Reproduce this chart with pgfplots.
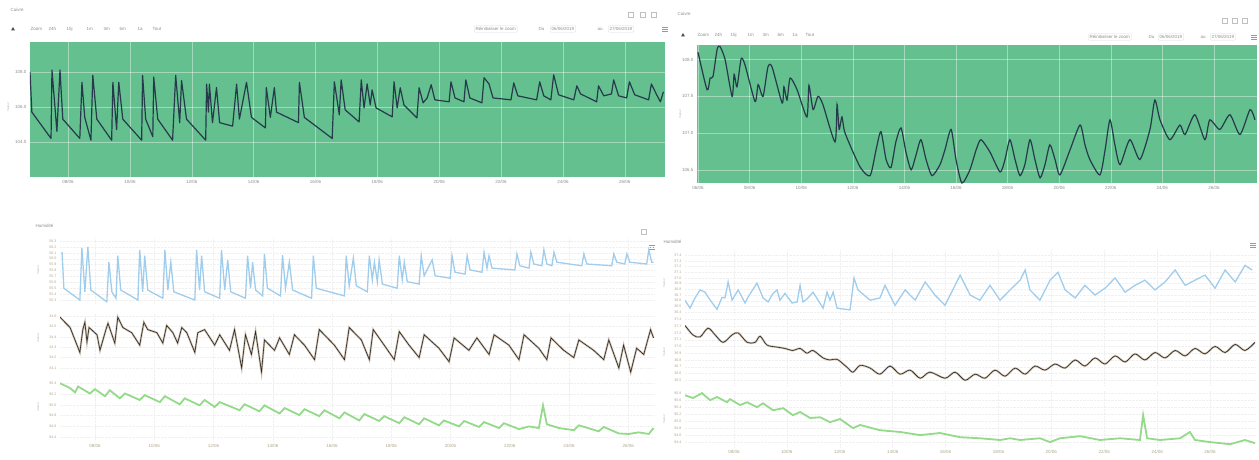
\documentclass[border=0pt]{standalone}
\usepackage{fontspec}
\setmainfont{Liberation Sans}
\usepackage{pgfplots}
\usepackage{pgfplotstable}
\pgfplotsset{compat=1.18}
\definecolor{bggreen}{RGB}{100,192,142}
\definecolor{navy}{RGB}{38,58,76}
\definecolor{lblue}{RGB}{160,205,236}
\definecolor{lgreen}{RGB}{148,218,138}
\definecolor{band}{RGB}{205,190,172}
\definecolor{txt}{RGB}{140,140,140}
\definecolor{tkl}{RGB}{175,165,140}

\pgfplotstableread{
x y
6.77 108.0
6.83 105.7
7.45 104.2
7.48 108.1
7.64 104.6
7.74 108.1
7.83 105.3
8.38 104.2
8.45 107.4
8.54 105.4
8.74 104.1
8.80 107.8
8.93 105.3
9.41 104.1
9.45 107.4
9.57 104.7
9.64 107.4
9.77 105.3
10.38 104.1
10.41 107.8
10.51 105.3
10.74 104.3
10.77 107.7
10.90 105.3
11.38 104.1
11.48 107.8
11.61 105.1
11.67 107.5
11.83 105.3
12.45 104.1
12.48 107.3
12.54 105.7
12.57 107.3
12.67 105.1
12.80 107.1
12.90 105.1
13.32 104.9
13.45 107.3
13.54 105.3
13.77 107.4
13.93 105.4
14.38 104.8
14.41 107.1
14.54 105.4
14.67 107.1
14.74 105.7
15.45 105.1
15.48 107.4
15.64 105.4
16.54 104.2
16.61 107.43
16.77 105.54
16.83 107.54
16.96 105.83
17.41 105.14
17.48 107.54
17.57 105.94
17.67 107.31
17.77 106.11
17.83 106.97
17.96 105.94
18.48 105.43
18.54 107.43
18.64 105.94
18.74 107.09
18.86 106.11
19.28 105.37
19.35 107.09
19.48 106.23
19.61 106.51
19.74 107.26
19.86 106.40
20.32 106.29
20.38 107.43
20.51 106.51
20.80 106.29
20.86 107.54
20.99 106.51
21.38 106.23
21.45 107.66
21.61 107.31
21.74 106.51
22.32 106.40
22.41 107.37
22.54 106.63
23.15 106.40
23.25 107.43
23.38 106.63
23.61 106.40
23.70 107.83
23.86 106.69
24.35 106.40
24.45 107.20
24.57 106.74
25.09 106.29
25.15 107.20
25.32 106.63
25.57 106.74
25.64 107.54
25.80 106.63
26.06 106.51
26.15 107.43
26.32 106.69
26.77 106.40
26.86 107.31
27.03 106.69
27.15 106.29
27.25 106.86
}\TL

\pgfplotstableread{
x y
6.00 108.10
6.35 107.59
6.47 107.75
6.58 107.77
6.74 108.14
6.85 108.18
7.05 108.00
7.32 107.50
7.40 107.80
7.51 107.63
7.67 108.01
7.82 107.93
8.21 107.43
8.33 107.66
8.52 107.50
8.71 107.90
8.87 107.90
9.26 107.41
9.33 107.63
9.45 107.45
9.57 107.75
9.84 107.59
10.22 107.22
10.30 107.65
10.46 107.32
10.65 107.50
10.84 107.39
11.31 106.88
11.39 107.39
11.47 107.05
11.58 107.22
11.70 107.00
12.28 106.54
12.67 106.42
12.90 106.77
13.09 107.02
13.29 106.64
13.48 106.53
13.67 106.88
13.87 107.07
14.06 106.74
14.26 106.50
14.45 106.70
14.64 106.91
14.84 106.64
15.07 106.42
15.38 106.57
15.57 106.77
15.81 107.05
16.00 106.64
16.23 106.32
16.54 106.50
16.78 106.77
16.97 106.91
17.32 106.74
17.71 106.47
17.90 106.64
18.09 106.91
18.29 106.64
18.48 106.42
18.67 106.57
18.87 106.91
19.06 106.64
19.26 106.39
19.45 106.57
19.64 106.84
19.84 106.64
20.03 106.43
20.42 106.77
20.81 107.11
21.00 106.84
21.19 106.64
21.58 106.43
21.78 106.77
21.97 107.18
22.16 106.84
22.36 106.57
22.74 106.91
23.13 106.64
23.52 107.05
23.71 107.45
23.91 107.18
24.29 106.91
24.68 107.11
24.88 106.98
25.26 107.25
25.65 106.91
25.84 107.18
26.23 107.05
26.62 107.25
27.01 106.98
27.40 107.32
27.59 107.18
}\TR

\pgfplotstableread{
x y
6.89 56.11
6.95 55.50
7.49 55.30
7.56 56.18
7.66 55.44
7.76 56.20
7.86 55.47
8.40 55.27
8.47 55.94
8.57 55.44
8.71 55.33
8.77 56.05
8.87 55.47
9.45 55.30
9.51 56.15
9.61 55.44
9.68 56.05
9.78 55.47
10.29 55.33
10.36 56.15
10.46 55.47
10.56 55.94
10.66 55.44
11.37 55.30
11.43 56.15
11.53 55.47
11.60 56.05
11.70 55.44
12.21 55.33
12.27 56.15
12.38 55.47
12.48 55.98
12.58 55.44
13.08 55.33
13.15 56.05
13.25 55.50
13.32 55.94
13.42 55.47
13.66 55.37
13.72 56.08
13.82 55.50
14.26 55.37
14.33 56.06
14.43 55.50
14.56 55.94
14.67 55.47
15.31 55.33
15.37 56.05
15.47 55.50
16.42 55.37
16.48 56.05
16.58 55.54
16.72 56.01
16.82 55.54
17.19 55.44
17.26 56.05
17.36 55.64
17.43 55.94
17.53 55.61
17.59 55.98
17.70 55.57
18.20 55.50
18.27 56.05
18.37 55.64
18.44 55.94
18.54 55.61
18.94 55.57
19.01 56.05
19.11 55.71
19.38 55.98
19.48 55.71
19.99 55.67
20.05 56.05
20.15 55.77
20.49 55.74
20.56 56.05
20.66 55.81
21.06 55.77
21.13 56.11
21.23 55.84
21.30 56.05
21.40 55.84
22.17 55.81
22.24 56.08
22.34 55.88
22.65 55.84
22.71 56.11
22.81 55.91
23.08 55.88
23.15 56.15
23.25 55.91
23.42 55.88
23.49 56.11
23.59 55.94
24.43 55.88
24.50 56.08
24.60 55.91
25.44 55.88
25.51 56.08
25.61 55.94
25.88 55.91
25.95 56.08
26.05 55.94
26.62 55.91
26.69 56.15
26.79 55.94
26.85 55.94
}\BLb

\pgfplotstableread{
x y
6.82 34.59
6.92 34.56
7.16 34.49
7.49 34.25
7.59 34.47
7.66 34.54
7.73 34.35
7.80 34.49
8.07 34.42
8.17 34.27
8.37 34.47
8.44 34.53
8.67 34.34
8.77 34.59
8.94 34.49
9.24 34.44
9.51 34.32
9.65 34.54
9.78 34.47
10.09 34.44
10.29 34.34
10.42 34.51
10.63 34.44
10.79 34.34
10.93 34.49
11.10 34.44
11.37 34.25
11.47 34.44
11.70 34.47
12.04 34.32
12.21 34.42
12.54 34.27
12.71 34.47
12.95 34.10
13.08 34.42
13.28 34.23
13.42 34.45
13.62 34.06
13.72 34.37
14.06 34.27
14.23 34.39
14.56 34.23
14.73 34.42
15.07 34.32
15.41 34.18
15.57 34.47
16.08 34.32
16.42 34.18
16.58 34.49
16.99 34.37
17.26 34.18
17.39 34.47
17.76 34.32
18.10 34.18
18.27 34.45
18.60 34.32
18.94 34.20
19.11 34.42
19.61 34.29
19.95 34.16
20.12 34.39
20.62 34.27
20.89 34.39
21.30 34.23
21.47 34.42
21.97 34.32
22.31 34.18
22.48 34.42
22.98 34.29
23.25 34.18
23.39 34.39
23.82 34.27
24.16 34.20
24.33 34.37
24.83 34.27
25.17 34.18
25.34 34.37
25.68 34.10
25.84 34.32
26.08 34.06
26.28 34.29
26.52 34.23
26.75 34.47
26.85 34.39
}\BLk

\pgfplotstableread{
x y
6.82 95.40
7.16 95.31
7.33 95.23
7.43 95.34
7.83 95.21
8.00 95.29
8.34 95.16
8.50 95.27
8.84 95.12
9.01 95.21
9.51 95.09
9.68 95.18
10.19 95.05
10.36 95.16
10.86 95.01
11.03 95.12
11.53 94.99
11.70 95.09
12.04 94.96
12.21 95.05
12.88 94.90
13.05 95.01
13.55 94.88
13.72 94.99
14.23 94.84
14.40 94.94
14.90 94.81
15.07 94.92
15.57 94.79
15.74 94.90
16.25 94.75
16.42 94.86
16.92 94.71
17.09 94.83
17.59 94.70
17.76 94.79
18.27 94.66
18.44 94.77
18.94 94.64
19.11 94.75
19.61 94.62
19.78 94.71
20.29 94.60
20.46 94.70
20.96 94.59
21.13 94.68
21.64 94.57
21.80 94.66
22.31 94.55
22.65 94.60
22.98 94.57
23.12 94.99
23.25 94.64
23.66 94.57
24.16 94.53
24.33 94.62
25.00 94.51
25.17 94.59
25.68 94.47
26.01 94.46
26.35 94.49
26.69 94.46
26.85 94.57
}\BLg

\pgfplotstableread{
x y
6.15 36.61
6.34 36.47
6.53 36.65
6.72 36.79
6.91 36.75
7.10 36.61
7.36 36.45
7.55 36.66
7.66 36.65
7.78 36.93
7.93 36.61
8.16 36.79
8.42 36.56
8.53 36.66
8.87 36.91
9.10 36.65
9.29 36.58
9.48 36.73
9.63 36.79
9.74 36.61
9.93 36.73
10.20 36.56
10.39 36.58
10.50 36.87
10.61 36.58
10.76 36.63
10.99 36.75
11.37 36.47
11.52 36.75
11.63 36.61
11.75 36.75
11.90 36.47
12.39 36.44
12.54 37.00
12.69 36.79
13.15 36.61
13.52 36.65
13.71 36.87
14.09 36.52
14.47 36.79
14.85 36.61
15.23 36.93
15.60 36.70
15.98 36.52
16.36 36.87
16.55 37.05
16.93 36.70
17.30 36.61
17.68 36.87
18.06 36.61
18.44 36.79
18.82 36.96
19.01 37.14
19.19 36.79
19.57 36.61
19.95 36.96
20.25 37.10
20.52 36.79
20.90 36.65
21.27 36.87
21.65 36.70
22.03 36.82
22.41 37.00
22.79 36.75
23.16 36.87
23.54 36.96
23.92 36.79
24.30 36.93
24.68 37.14
25.06 36.87
25.43 36.96
25.81 37.05
26.19 36.82
26.57 37.14
26.95 36.93
27.32 37.22
27.59 37.14
}\BRb

\pgfplotstableread{
x y
6.15 37.31
6.45 37.17
6.72 37.14
7.02 37.27
7.29 37.17
7.59 37.06
7.93 37.17
8.16 37.20
8.50 37.06
8.80 37.06
8.99 37.15
9.25 37.02
9.63 36.99
9.93 36.97
10.23 36.94
10.50 36.97
10.76 36.90
10.99 36.94
11.37 36.83
11.63 36.80
11.90 36.81
12.28 36.69
12.50 36.62
12.77 36.72
13.15 36.68
13.52 36.59
13.90 36.71
14.28 36.59
14.66 36.65
15.04 36.53
15.41 36.62
15.98 36.53
16.36 36.62
16.74 36.50
17.12 36.59
17.49 36.53
17.87 36.65
18.25 36.56
18.63 36.68
19.01 36.59
19.38 36.71
19.76 36.65
20.14 36.74
20.52 36.68
20.90 36.80
21.27 36.71
21.65 36.83
22.03 36.74
22.41 36.86
22.79 36.77
23.16 36.89
23.54 36.80
23.92 36.91
24.30 36.83
24.68 36.94
25.06 36.86
25.43 36.97
25.81 36.89
26.19 37.00
26.57 36.91
26.95 37.03
27.32 36.94
27.70 37.06
}\BRk

\pgfplotstableread{
x y
6.15 95.74
6.45 95.66
6.79 95.80
7.10 95.60
7.36 95.69
7.74 95.54
7.85 95.63
8.23 95.46
8.50 95.54
8.87 95.40
9.10 95.51
9.48 95.31
9.86 95.37
10.23 95.17
10.50 95.26
10.88 95.09
11.26 95.11
11.63 94.97
12.01 95.06
12.50 94.80
12.77 94.89
13.52 94.74
14.28 94.69
15.04 94.60
15.79 94.66
16.55 94.54
17.30 94.51
18.06 94.46
18.44 94.51
18.82 94.46
19.57 94.51
19.95 94.40
20.33 94.51
21.09 94.57
21.84 94.46
22.60 94.51
23.35 94.46
23.47 95.17
23.62 94.51
24.11 94.46
24.87 94.51
25.24 94.69
25.43 94.46
26.00 94.40
26.76 94.34
27.32 94.46
27.70 94.37
}\BRg

\pgfplotsset{
 common/.style={scale only axis, anchor=south west, clip=true,
   tick style={draw=none},
   ticklabel style={font=\fontsize{4.5}{5}\selectfont, text=txt},
   /pgf/number format/assume math mode=true,
   /pgf/number format/fixed, /pgf/number format/fixed zerofill,
   /pgf/number format/precision=1},
 topax/.style={common, axis background/.style={fill=bggreen},
   axis line style={draw=none}, grid=major,
   major grid style={white, opacity=0.4, line width=0.5pt}},
 hum/.style={common, axis line style={draw=none}, grid=major,
   major grid style={densely dotted, black!6, line width=0.3pt},
   yticklabel style={text=tkl, font=\fontsize{3.6}{4}\selectfont},
   xticklabel style={text=tkl}}
}
\tikzset{
 lab/.style={font=\fontsize{4.5}{5}\selectfont, text=txt, inner sep=0.5pt},
 box/.style={draw=black!15, rounded corners=1pt, line width=0.3pt, inner sep=1.5pt, font=\fontsize{4.5}{5}\selectfont, text=txt}
}

\begin{document}
\begin{tikzpicture}[x=1pt,y=1pt]
\useasboundingbox (0,0) rectangle (1259,459);

% ---------- top left header
\node[lab, anchor=west] at (10,449) {Cuivre};
\fill[black!70] (11,428.5) -- (15,428.5) -- (13,432) -- cycle;
\foreach \t/\xx in {Zoom/30,24h/48,15j/66,1m/86,3m/103,6m/119,1a/137,Tout/152}{\node[lab, anchor=west] at (\xx,430) {\t};}
\node[box, anchor=west] at (474,430) {Réinitialiser le zoom};
\node[lab, anchor=west] at (538,430) {Du};
\node[box, anchor=west] at (550,430) {06/06/2019};
\node[lab, anchor=west] at (597,430) {au};
\node[box, anchor=west] at (608,430) {27/06/2019};
\foreach \yy in {427.5,429.5,431.5}{\draw[black!40, line width=0.6pt] (662,\yy) -- (668,\yy);}
\foreach \xx in {628,640,651}{\draw[black!25, line width=0.4pt] (\xx,442) rectangle ++(5,5);}

% ---------- top right header
\node[lab, anchor=west] at (677,445) {Cuivre};
\fill[black!70] (681,422.5) -- (685,422.5) -- (683,426) -- cycle;
\foreach \t/\xx in {Zoom/697,24h/714,15j/730,1m/747,3m/762,6m/777,1a/792,Tout/805}{\node[lab, anchor=west] at (\xx,424) {\t};}
\node[box, anchor=west] at (1088,422) {Réinitialiser le zoom};
\node[lab, anchor=west] at (1148,422) {Du};
\node[box, anchor=west] at (1158,422) {06/06/2019};
\node[lab, anchor=west] at (1200,422) {au};
\node[box, anchor=west] at (1210,422) {27/06/2019};
\foreach \yy in {419.5,421.5,423.5}{\draw[black!40, line width=0.6pt] (1251,\yy) -- (1257,\yy);}
\foreach \xx in {1222,1232,1242}{\draw[black!25, line width=0.4pt] (\xx,436) rectangle ++(5,5);}

% ---------- bottom headers
\node[lab, anchor=west] at (35,233) {Humidité};
\node[lab, anchor=west] at (663,217) {Humidité};
\draw[black!25, line width=0.4pt] (641,225) rectangle ++(5,5);
\foreach \yy in {210,212,214}{\draw[black!40, line width=0.6pt] (649,\yy) -- (655,\yy);}
\foreach \yy in {212,214,216}{\draw[black!40, line width=0.6pt] (1250,\yy) -- (1256,\yy);}
\foreach \yy in {189,121,52}{\node[lab, rotate=90, font=\fontsize{3}{3.5}\selectfont, text=black!30] at (38,\yy) {Valeur};}
\foreach \yy in {176,107,40}{\node[lab, rotate=90, font=\fontsize{3}{3.5}\selectfont, text=black!30] at (664,\yy) {Valeur};}
\node[lab, rotate=90, font=\fontsize{3}{3.5}\selectfont, text=black!30] at (8,352) {Valeur};
\node[lab, rotate=90, font=\fontsize{3}{3.5}\selectfont, text=black!30] at (680,345) {Valeur};

% ---------- top left chart
\begin{axis}[topax, at={(30pt,282pt)}, width=635pt, height=135pt,
  xmin=6.77, xmax=27.3, ymin=102, ymax=109.7,
  xtick={8,10,...,26},
  xticklabels={08/06,10/06,12/06,14/06,16/06,18/06,20/06,22/06,24/06,26/06},
  ytick={104,106,108}]
\addplot[navy, line width=1.2pt, line join=round] table {\TL};
\end{axis}

% ---------- top right chart
\begin{axis}[topax, at={(697pt,276pt)}, width=560pt, height=138pt,
  xmin=5.96, xmax=27.67, ymin=106.32, ymax=108.2,
  xtick={6,8,...,26},
  xticklabels={06/06,08/06,10/06,12/06,14/06,16/06,18/06,20/06,22/06,24/06,26/06},
  ytick={106.5,107,107.5,108}]
\addplot[navy, line width=1.2pt, smooth, tension=0.4] table {\TR};
\end{axis}

% ---------- bottom left charts
\begin{axis}[hum, at={(60pt,156pt)}, width=595pt, height=65pt,
  xmin=6.82, xmax=26.9, ymin=55.25, ymax=56.35,
  xtick={8,10,...,26}, xticklabels={},
  ytick={55.3,55.4,...,56.35}]
\addplot[lblue, line width=1.3pt] table {\BLb};
\end{axis}
\begin{axis}[hum, at={(60pt,61pt)}, width=595pt, height=85pt,
  xmin=6.82, xmax=26.9, ymin=33.81, ymax=34.63,
  xtick={8,10,...,26}, xticklabels={},
  ytick={34.1,34.2,...,34.65}]
\addplot[band, line width=2.0pt] table {\BLk};
\addplot[black!85, line width=0.6pt] table {\BLk};
\end{axis}
\begin{axis}[hum, at={(60pt,18pt)}, width=595pt, height=61pt,
  xmin=6.82, xmax=26.9, ymin=94.33, ymax=95.46,
  xtick={8,10,...,26},
  xticklabels={08/06,10/06,12/06,14/06,16/06,18/06,20/06,22/06,24/06,26/06},
  ytick={94.4,94.6,...,95.45}]
\addplot[lgreen, line width=1.8pt] table {\BLg};
\end{axis}

% ---------- bottom right charts
\begin{axis}[hum, at={(685pt,144pt)}, width=570pt, height=65pt,
  xmin=6.15, xmax=27.7, ymin=36.35, ymax=37.49,
  xtick={6,8,...,26}, xticklabels={},
  ytick={36.4,36.5,...,37.45}]
\addplot[lblue, line width=1.3pt] table {\BRb};
\end{axis}
\begin{axis}[hum, at={(685pt,74pt)}, width=570pt, height=67pt,
  xmin=6.15, xmax=27.7, ymin=36.43, ymax=37.42,
  xtick={6,8,...,26}, xticklabels={},
  ytick={36.5,36.6,...,37.35}]
\addplot[band, line width=2.0pt, smooth] table {\BRk};
\addplot[black!85, line width=0.6pt, smooth] table {\BRk};
\end{axis}
\begin{axis}[hum, at={(685pt,12pt)}, width=570pt, height=57pt,
  xmin=6.15, xmax=27.7, ymin=94.26, ymax=95.89,
  xtick={6,8,...,26},
  xticklabels={06/06,08/06,10/06,12/06,14/06,16/06,18/06,20/06,22/06,24/06,26/06},
  ytick={94.4,94.6,...,95.85}]
\addplot[lgreen, line width=1.8pt] table {\BRg};
\end{axis}
\end{tikzpicture}
\end{document}
